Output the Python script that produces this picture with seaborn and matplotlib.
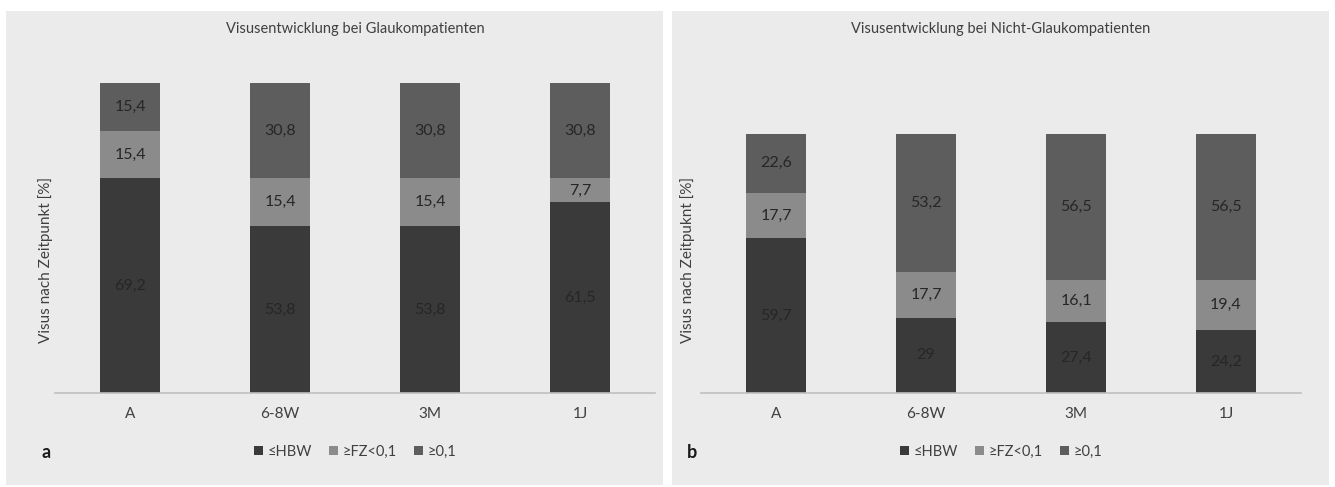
import matplotlib
matplotlib.use('Agg')
import matplotlib.pyplot as plt
from matplotlib.patches import Patch, Rectangle
import pandas as pd
import seaborn as sns

zeitpunkte = ['A', '6-8W', '3M', '1J']
kategorien = ['≤HBW', '≥FZ<0,1', '≥0,1']

# Glaukompatienten (a)
glauk_hbw = [69.2, 53.8, 53.8, 61.5]
glauk_fz = [15.4, 15.4, 15.4, 7.7]
glauk_01 = [15.4, 30.8, 30.8, 30.8]

# Nicht-Glaukompatienten (b)
nicht_hbw = [59.7, 29, 27.4, 24.2]
nicht_fz = [17.7, 17.7, 16.1, 19.4]
nicht_01 = [22.6, 53.2, 56.5, 56.5]

farben = ['#3a3a3a', '#8b8b8b', '#5d5d5d']
bg = '#ebebeb'

sns.set_theme(style='white')
plt.rcParams['font.family'] = ['Lato', 'DejaVu Sans']

W, H = 1335, 487
fig = plt.figure(figsize=(W / 100, H / 100), dpi=100)
fig.patch.set_facecolor('white')

# grey panel backgrounds
for x0, x1 in [(6, 663), (672, 1329)]:
    fig.patches.append(Rectangle((x0 / W, 2 / H), (x1 - x0) / W, 474 / H,
                                 transform=fig.transFigure, facecolor=bg,
                                 edgecolor='none', zorder=-10))


def fmt(v):
    return f'{v:g}'.replace('.', ',')


def panel(left_px, hbw, fz, o01, ymax, title, ylabel, letter, lab_x):
    ax = fig.add_axes([left_px / W, 94 / H, 600 / W, 310 / H])
    ax.set_facecolor(bg)
    df = pd.DataFrame({'zeit': zeitpunkte, 'hbw': hbw, 'fz': fz, 'o01': o01})
    df['top'] = df['hbw'] + df['fz'] + df['o01']
    df['mid'] = df['hbw'] + df['fz']
    for col, c in [('top', farben[2]), ('mid', farben[1]), ('hbw', farben[0])]:
        sns.barplot(data=df, x='zeit', y=col, order=zeitpunkte, color=c,
                    width=0.4, saturation=1, ax=ax, linewidth=0)
    for i, row in df.iterrows():
        for bottom, val in [(0, row['hbw']), (row['hbw'], row['fz']),
                            (row['mid'], row['o01'])]:
            ax.text(i, bottom + val / 2, fmt(val), ha='center', va='center',
                    fontsize=11.5, color='#262626')
    ax.set_ylim(0, ymax)
    ax.set_xlim(-0.5, 3.5)
    ax.set_yticks([])
    ax.set_xlabel('')
    ax.set_ylabel(ylabel, fontsize=11, color='#404040')
    ax.yaxis.set_label_coords(lab_x, 0.43)
    ax.set_title(title, fontsize=10.5, color='#404040', pad=36)
    ax.tick_params(axis='x', length=0, labelsize=11, labelcolor='#404040', pad=10)
    for s in ['top', 'right', 'left']:
        ax.spines[s].set_visible(False)
    ax.spines['bottom'].set_color('#bfbfbf')
    ax.spines['bottom'].set_linewidth(1.2)
    handles = [Patch(facecolor=c, edgecolor='none') for c in farben]
    ax.legend(handles, kategorien, loc='center', bbox_to_anchor=(0.5, -0.19),
              ncol=3, frameon=False, fontsize=10.5, handlelength=0.6,
              handleheight=0.6, handletextpad=0.3, columnspacing=1.2,
              labelcolor='#404040')
    fig.text((left_px - 14) / W, 1 - 452 / H, letter, fontsize=13,
             fontweight='bold', color='#1a1a1a', ha='left', va='center')
    return ax


panel(55, glauk_hbw, glauk_fz, glauk_01, 100,
      'Visusentwicklung bei Glaukompatienten', 'Visus nach Zeitpunkt [%]', 'a',
      -0.004)
panel(701, nicht_hbw, nicht_fz, nicht_01, 119.7,
      'Visusentwicklung bei Nicht-Glaukompatienten', 'Visus nach Zeitpuknt [%]', 'b',
      -0.01)

fig.savefig('out.png', dpi=100, facecolor='white')
